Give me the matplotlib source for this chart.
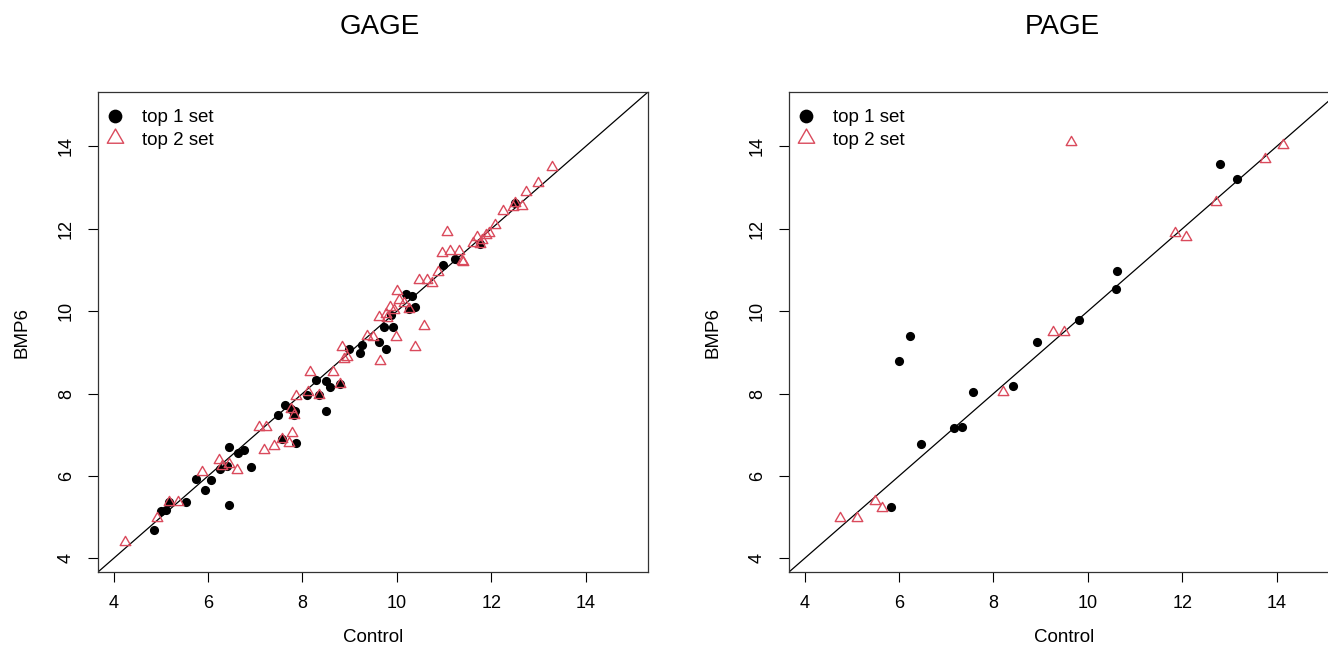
import matplotlib
matplotlib.use("Agg")
import matplotlib.pyplot as plt
from matplotlib.lines import Line2D
from matplotlib.path import Path
import numpy as np

plt.rcParams['font.family'] = ['Liberation Sans', 'DejaVu Sans']

# GAGE: top 1 set (black dots)
gage_top1_x = [4.85, 5.00, 5.10, 5.18, 5.53, 5.74, 5.94, 6.07, 6.26, 6.40, 6.45, 6.45,
               6.64, 6.76, 6.92, 7.48, 7.57, 7.63, 7.75, 7.82, 7.85, 7.87, 8.10, 8.28,
               8.35, 8.50, 8.51, 8.59, 8.79, 8.98, 9.21, 9.26, 9.62, 9.72, 9.78, 9.92,
               9.88, 10.20, 10.32, 10.39, 10.25, 10.98, 11.24, 11.77, 12.50]
gage_top1_y = [4.70, 5.14, 5.17, 5.37, 5.38, 5.92, 5.67, 5.91, 6.18, 6.25, 5.30, 6.70,
               6.56, 6.64, 6.22, 7.47, 6.89, 7.73, 7.63, 7.47, 7.58, 6.81, 7.96, 8.32,
               7.97, 8.30, 7.58, 8.16, 8.24, 9.09, 8.99, 9.17, 9.26, 9.61, 9.08, 9.62,
               9.90, 10.41, 10.36, 10.09, 10.05, 11.13, 11.26, 11.64, 12.62]

# GAGE: top 2 set (red triangles)
gage_top2_x = [4.24, 4.93, 5.18, 5.37, 5.88, 6.23, 6.30, 6.45, 6.62, 7.09, 7.23, 7.18,
               7.40, 7.57, 7.71, 7.77, 7.75, 7.82, 7.87, 8.11, 8.17, 8.35, 8.65, 8.79,
               8.84, 8.89, 8.95, 9.37, 9.49, 9.65, 9.62, 9.79, 9.76, 9.99, 10.39, 10.57,
               9.86, 9.93, 10.00, 10.04, 10.15, 10.25, 10.46, 10.64, 10.74, 10.88, 10.96,
               11.06, 11.13, 11.31, 11.38, 11.41, 11.62, 11.70, 11.80, 11.88, 11.95, 11.77,
               12.08, 12.25, 12.47, 12.50, 12.65, 12.74, 13.00, 13.28]
gage_top2_y = [4.40, 4.99, 5.37, 5.37, 6.10, 6.38, 6.25, 6.28, 6.14, 7.20, 7.19, 6.64,
               6.72, 6.89, 6.81, 7.05, 7.63, 7.47, 7.93, 8.05, 8.52, 7.97, 8.52, 8.24,
               9.13, 8.83, 8.88, 9.41, 9.38, 8.78, 9.87, 9.83, 9.94, 9.38, 9.12, 9.63,
               10.10, 10.02, 10.50, 10.26, 10.20, 10.05, 10.75, 10.75, 10.69, 10.96, 11.41,
               11.93, 11.45, 11.45, 11.23, 11.20, 11.65, 11.80, 11.72, 11.85, 11.90, 11.64,
               12.09, 12.42, 12.52, 12.62, 12.55, 12.90, 13.10, 13.50]

# PAGE
page_top1_x = [5.83, 6.00, 6.23, 6.46, 7.16, 7.34, 7.56, 8.42, 8.93, 9.81, 10.60, 10.62, 12.79, 13.16]
page_top1_y = [5.25, 8.78, 9.39, 6.78, 7.17, 7.19, 8.03, 8.18, 9.25, 9.78, 10.54, 10.98, 13.57, 13.22]
page_top2_x = [4.75, 5.12, 5.49, 5.64, 8.21, 9.26, 9.49, 9.64, 11.85, 12.08, 12.72, 13.75, 14.13]
page_top2_y = [4.99, 4.98, 5.39, 5.23, 8.03, 9.49, 9.49, 14.10, 11.89, 11.79, 12.66, 13.69, 14.03]

ticks = [4, 6, 8, 10, 12, 14]
lims = (3.67, 15.32)
red = '#DA4A5C'
# equilateral triangle like R's pch=2
tri = Path([(-1, -0.577), (1, -0.577), (0, 1.155), (-1, -0.577)],
           [Path.MOVETO, Path.LINETO, Path.LINETO, Path.CLOSEPOLY])

fig = plt.figure(figsize=(13.28, 6.62), dpi=100)
ax1 = fig.add_axes([98 / 1328, 1 - 572 / 662, 550 / 1328, 480 / 662])
ax2 = fig.add_axes([789 / 1328, 1 - 572 / 662, 550 / 1328, 480 / 662])

panels = [(ax1, gage_top1_x, gage_top1_y, gage_top2_x, gage_top2_y, 'GAGE', 380),
          (ax2, page_top1_x, page_top1_y, page_top2_x, page_top2_y, 'PAGE', 1062)]

for ax, x1, y1, x2, y2, title, tx in panels:
    ax.plot(lims, lims, color='black', lw=0.9, zorder=1)
    ax.plot(x1, y1, 'o', color='black', ms=6.6, mew=0, zorder=2)
    ax.plot(x2, y2, linestyle='none', marker=tri, ms=8.8, mfc='none', mec=red, mew=1.0, zorder=3)
    ax.set_xlim(lims)
    ax.set_ylim(lims)
    ax.set_xticks(ticks)
    ax.set_yticks(ticks)
    ax.tick_params(direction='out', length=7.5, width=0.8, labelsize=13, pad=9)
    for lab in ax.get_yticklabels():
        lab.set_rotation(90)
        lab.set_va('center')
    for s in ax.spines.values():
        s.set_linewidth(0.9)
        s.set_color('#333333')
    ax.set_xlabel('Control', fontsize=13.5)
    ax.set_ylabel('BMP6', fontsize=13.5)
    ax.xaxis.set_label_coords(0.5, -(637 - 572) / 480)
    ax.xaxis.label.set_va('center')
    ax.yaxis.set_label_coords(-76 / 550, 0.5)
    ax.yaxis.label.set_va('center')
    fig.text(tx / 1328, 1 - 27 / 662, title, fontsize=20, ha='center', va='center')

    handles = [Line2D([], [], linestyle='none', marker='o', color='black', ms=6.6 * 1.5, mew=0),
               Line2D([], [], linestyle='none', marker=tri, ms=8.8 * 1.55, mfc='none', mec=red, mew=1.0)]
    ax.legend(handles, ['top 1 set', 'top 2 set'], loc='upper left', frameon=False,
              fontsize=13.5, handlelength=1.0, handletextpad=0.9, labelspacing=0.3,
              borderaxespad=0.0, borderpad=0.0, bbox_to_anchor=(8 / 550, 1 - 17 / 480))

fig.savefig('out.png', dpi=100)
